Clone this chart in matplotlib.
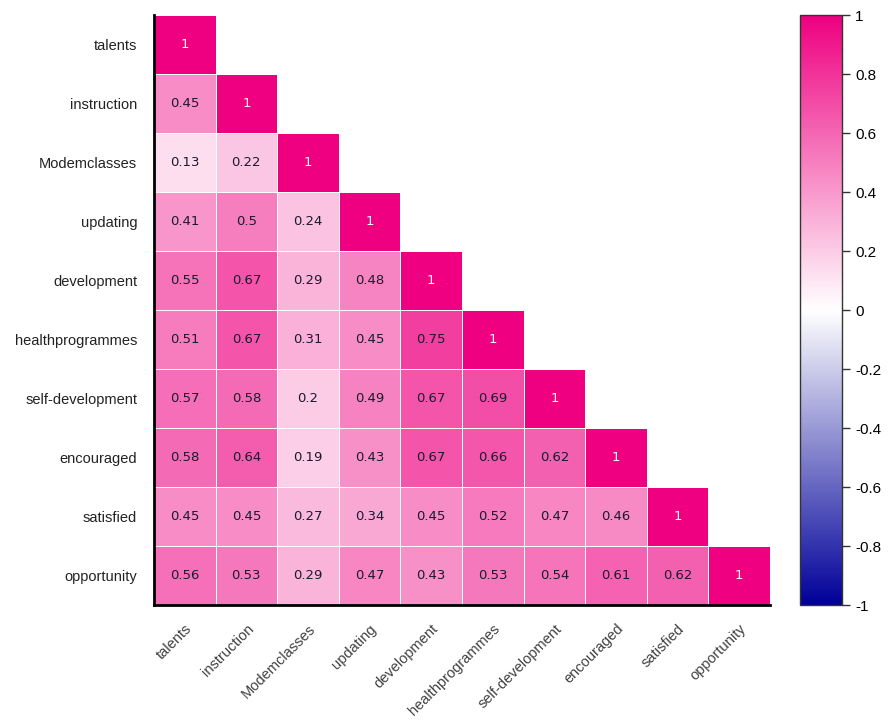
import numpy as np
import matplotlib.pyplot as plt
from matplotlib.colors import LinearSegmentedColormap

# variables
labels = ['talents', 'instruction', 'Modemclasses', 'updating', 'development',
          'healthprogrammes', 'self-development', 'encouraged', 'satisfied', 'opportunity']

# lower triangle, row by row
row_talents = [1]
row_instruction = [0.45, 1]
row_modem = [0.13, 0.22, 1]
row_updating = [0.41, 0.5, 0.24, 1]
row_development = [0.55, 0.67, 0.29, 0.48, 1]
row_health = [0.51, 0.67, 0.31, 0.45, 0.75, 1]
row_selfdev = [0.57, 0.58, 0.2, 0.49, 0.67, 0.69, 1]
row_encouraged = [0.58, 0.64, 0.19, 0.43, 0.67, 0.66, 0.62, 1]
row_satisfied = [0.45, 0.45, 0.27, 0.34, 0.45, 0.52, 0.47, 0.46, 1]
row_opportunity = [0.56, 0.53, 0.29, 0.47, 0.43, 0.53, 0.54, 0.61, 0.62, 1]

rows = [row_talents, row_instruction, row_modem, row_updating, row_development,
        row_health, row_selfdev, row_encouraged, row_satisfied, row_opportunity]

n = len(labels)
mat = np.full((n, n), np.nan)
for i, r in enumerate(rows):
    mat[i, :len(r)] = r
mat = np.ma.masked_invalid(mat)

cmap = LinearSegmentedColormap.from_list('bwp', ['#000099', '#ffffff', '#ee0080'])

plt.rcParams['font.family'] = ['Liberation Sans', 'DejaVu Sans']

fig = plt.figure(figsize=(8.91, 7.2), dpi=100)
ax = fig.add_axes([0.1728, 0.1597, 0.6914, 0.8194])
cax = fig.add_axes([0.898, 0.1597, 0.047, 0.8194])

mesh = ax.pcolormesh(mat, cmap=cmap, vmin=-1, vmax=1, edgecolors='white', linewidth=0.7)
ax.set_xlim(0, n)
ax.set_ylim(n, 0)

# valores en las celdas
for i in range(n):
    for j in range(len(rows[i])):
        v = rows[i][j]
        col = 'white' if v == 1 else '#1a1a2e'
        ax.text(j + 0.5, i + 0.5, f'{v:g}', ha='center', va='center',
                fontsize=9.5, color=col, family='DejaVu Sans')

ax.set_xticks(np.arange(n) + 0.5)
ax.set_yticks(np.arange(n) + 0.5)
ax.set_xticklabels(labels, rotation=45, ha='right', rotation_mode='anchor', fontsize=10.5, color='#404040')
ax.set_yticklabels(labels, fontsize=10.5, color='#222222')
ax.tick_params(axis='y', length=0, pad=12)
ax.tick_params(axis='x', length=0, pad=12)

for s in ['top', 'right']:
    ax.spines[s].set_visible(False)
for s in ['left', 'bottom']:
    ax.spines[s].set_linewidth(2)
    ax.spines[s].set_color('black')

cb = fig.colorbar(mesh, cax=cax, ticks=np.linspace(-1, 1, 11))
cb.ax.set_yticklabels(['-1', '-0.8', '-0.6', '-0.4', '-0.2', '0', '0.2', '0.4', '0.6', '0.8', '1'])
cb.ax.tick_params(labelsize=11, length=6, width=1, color='#333333')
cb.outline.set_edgecolor('#333333')
cb.outline.set_linewidth(1)

plt.savefig('out.png', dpi=100)
